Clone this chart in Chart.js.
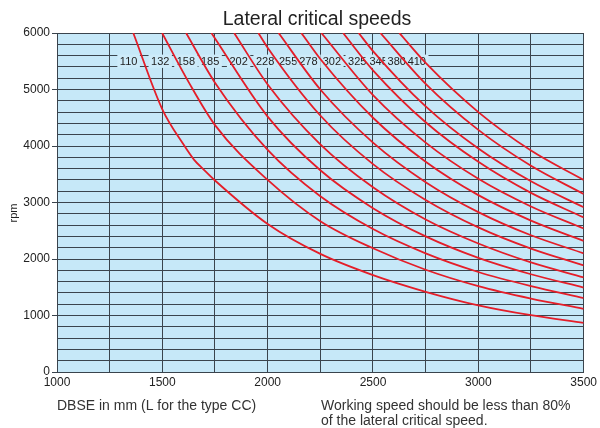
<!DOCTYPE html>
<html>
<head>
<meta charset="utf-8">
<script src="https://cdn.jsdelivr.net/npm/chart.js@4.4.1/dist/chart.umd.min.js"></script>
<style>
  html, body { margin: 0; padding: 0; background: #fff; }
  #wrap { width: 600px; height: 428px; }
</style>
</head>
<body>
<div id="wrap"><canvas id="chart" width="600" height="428"></canvas></div>
<script>
// one curve per shaft size (mm)
const shaftSizes = [110, 132, 158, 185, 202, 228, 255, 278, 302, 325, 345, 380, 410];

// [DBSE mm, lateral critical speed rpm]
const curve110 = [[1362, 6000], [1500, 4650], [1600, 4030], [1650, 3760], [1700, 3570], [1750, 3390], [2000, 2620], [2250, 2090], [2500, 1715], [2750, 1420], [3000, 1180], [3250, 1005], [3500, 869]];
const curve132 = [[1499, 6000], [1625, 5130], [1750, 4370], [2000, 3400], [2250, 2670], [2500, 2190], [2750, 1810], [3000, 1520], [3250, 1300], [3500, 1118]];
const curve158 = [[1613, 6000], [1750, 5120], [2000, 3930], [2250, 3110], [2500, 2530], [2750, 2100], [3000, 1770], [3250, 1520], [3500, 1309]];
const curve185 = [[1733, 6000], [2000, 4520], [2250, 3570], [2500, 2900], [2750, 2400], [3000, 2020], [3250, 1730], [3500, 1495]];
const curve202 = [[1841, 6000], [2000, 5090], [2250, 4030], [2500, 3270], [2750, 2700], [3000, 2275], [3250, 1940], [3500, 1675]];
const curve228 = [[1956, 6000], [2000, 5740], [2250, 4540], [2500, 3680], [2750, 3045], [3000, 2560], [3250, 2185], [3500, 1888]];
const curve255 = [[2052, 6000], [2250, 5000], [2500, 4060], [2750, 3360], [3000, 2830], [3250, 2420], [3500, 2100]];
const curve278 = [[2160, 6000], [2250, 5540], [2500, 4500], [2750, 3720], [3000, 3130], [3250, 2680], [3500, 2320]];
const curve302 = [[2255, 6000], [2500, 4900], [2750, 4060], [3000, 3420], [3250, 2930], [3500, 2540]];
const curve325 = [[2358, 6000], [2500, 5340], [2750, 4420], [3000, 3720], [3250, 3170], [3500, 2737]];
const curve345 = [[2432, 6000], [2500, 5680], [2750, 4700], [3000, 3955], [3250, 3375], [3500, 2915]];
const curve380 = [[2535, 6000], [2750, 5100], [3000, 4285], [3250, 3650], [3500, 3150]];
const curve410 = [[2625, 6000], [2750, 5470], [3000, 4600], [3250, 3920], [3500, 3399]];

const curves = [curve110, curve132, curve158, curve185, curve202, curve228, curve255,
  curve278, curve302, curve325, curve345, curve380, curve410];

// DBSE where each size tag sits in the 5400-5600 rpm band
const tagDbse = [1340, 1490, 1612, 1727, 1862, 1988, 2097, 2193, 2305, 2425, 2527, 2613, 2708];
const tagBand = [5400, 5600];

const plotFill = '#c6e8f8';
const gridColor = '#3a444d';
const curveColor = '#e41e29';
const textColor = '#222';
const fontFamily = '"Liberation Sans", Arial, Helvetica, sans-serif';

Chart.defaults.font.family = fontFamily;
Chart.defaults.font.size = 12;
Chart.defaults.color = textColor;

const decor = {
  id: 'decor',
  beforeDraw(chart) {
    const { ctx, chartArea: a } = chart;
    ctx.save();
    ctx.fillStyle = plotFill;
    ctx.fillRect(a.left, a.top, a.right - a.left, a.bottom - a.top);
    ctx.restore();
  },
  beforeDatasetsDraw(chart) {
    const { ctx } = chart;
    const xs = chart.scales.x;
    const ys = chart.scales.y;
    const yLo = ys.getPixelForValue(tagBand[0]);
    const yHi = ys.getPixelForValue(tagBand[1]);
    ctx.save();
    ctx.font = '11px "Liberation Sans Narrow", "Liberation Sans", Arial, sans-serif';
    ctx.textAlign = 'center';
    ctx.textBaseline = 'middle';
    shaftSizes.forEach((size, i) => {
      const px = xs.getPixelForValue(tagDbse[i]);
      const w = ctx.measureText(String(size)).width + 5;
      ctx.fillStyle = '#cdebf9';
      ctx.fillRect(px - w / 2, yHi - 1, w, yLo - yHi + 2);
      ctx.fillStyle = textColor;
      ctx.fillText(String(size), px, (yLo + yHi) / 2 + 0.5);
    });
    ctx.restore();
  },
  afterDraw(chart) {
    const { ctx } = chart;
    ctx.save();
    ctx.fillStyle = textColor;
    ctx.textBaseline = 'alphabetic';

    ctx.font = '19.5px ' + fontFamily;
    ctx.textAlign = 'center';
    ctx.fillText('Lateral critical speeds', 317, 25);

    ctx.save();
    ctx.translate(17, 213);
    ctx.rotate(-Math.PI / 2);
    ctx.font = '11px ' + fontFamily;
    ctx.fillText('rpm', 0, 0);
    ctx.restore();

    ctx.font = '14px ' + fontFamily;
    ctx.fillStyle = '#333';
    ctx.textAlign = 'left';
    ctx.fillText('DBSE in mm (L for the type CC)', 57, 410);
    ctx.fillText('Working speed should be less than 80%', 321, 410);
    ctx.fillText('of the lateral critical speed.', 321, 425);
    ctx.restore();
  },
};

new Chart(document.getElementById('chart'), {
  type: 'line',
  data: {
    datasets: curves.map((pts, i) => ({
      label: String(shaftSizes[i]),
      data: pts.map(([x, y]) => ({ x, y })),
      borderColor: curveColor,
      borderWidth: 1.8,
      pointRadius: 0,
      fill: false,
      cubicInterpolationMode: 'monotone',
    })),
  },
  options: {
    responsive: false,
    animation: false,
    events: [],
    layout: { padding: { top: 33, right: 12, left: 0, bottom: 0 } },
    plugins: {
      legend: { display: false },
      tooltip: { enabled: false },
      title: { display: false },
    },
    scales: {
      x: {
        type: 'linear',
        min: 1000,
        max: 3500,
        afterFit: (scale) => { scale.height = 56; },
        ticks: {
          stepSize: 250,
          autoSkip: false,
          maxRotation: 0,
          minRotation: 0,
          padding: 3,
          color: textColor,
          callback: (v) => (v % 500 === 0 ? String(v) : ''),
        },
        grid: { color: gridColor, lineWidth: 1, drawTicks: false },
        border: { color: gridColor, width: 1 },
      },
      y: {
        min: 0,
        max: 6000,
        afterFit: (scale) => { scale.width = 57; },
        ticks: {
          stepSize: 200,
          autoSkip: false,
          padding: 2,
          color: textColor,
          callback: (v) => (v % 1000 === 0 ? String(v) : ''),
        },
        grid: {
          color: gridColor,
          lineWidth: 1,
          tickLength: 5,
          tickColor: (c) => (c.tick && c.tick.value % 1000 === 0 ? gridColor : 'rgba(0,0,0,0)'),
        },
        border: { color: gridColor, width: 1 },
      },
    },
  },
  plugins: [decor],
});
</script>
</body>
</html>
